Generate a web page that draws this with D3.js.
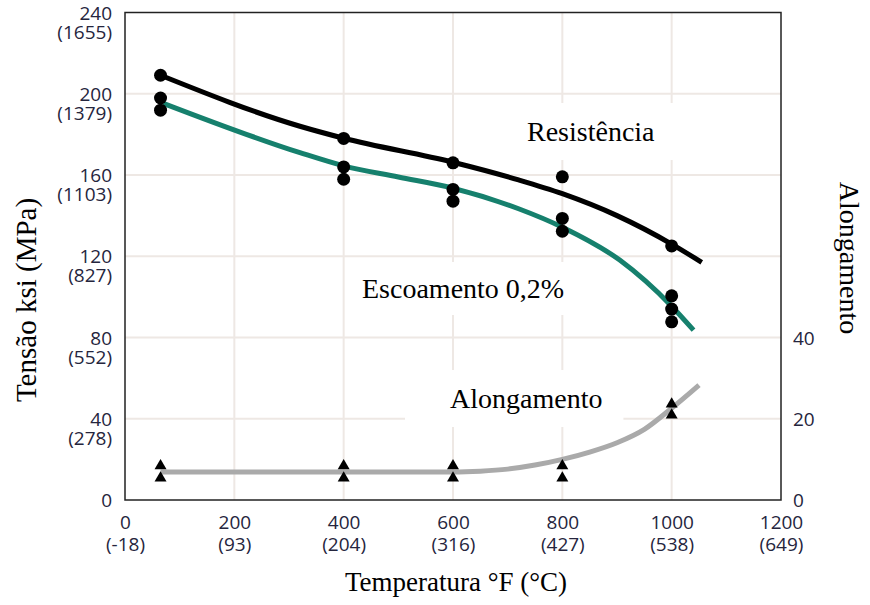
<!DOCTYPE html>
<html>
<head>
<meta charset="utf-8">
<script src="https://cdn.jsdelivr.net/npm/d3@7"></script>
<style>
  html, body { margin: 0; padding: 0; background: #fff; }
  svg { display: block; }
</style>
</head>
<body>
<svg id="chart" width="870" height="605"></svg>
<script>
// Temperature axis (°F) with the Celsius equivalents shown underneath
const tempTicks = [0, 200, 400, 600, 800, 1000, 1200];
const celsiusLabels = ["(-18)", "(93)", "(204)", "(316)", "(427)", "(538)", "(649)"];

// Stress axis (ksi) with MPa equivalents
const ksiTicks = [0, 40, 80, 120, 160, 200, 240];
const mpaLabels = ["", "(278)", "(552)", "(827)", "(1103)", "(1379)", "(1655)"];

// Elongation axis (%)
const elongTicks = [0, 20, 40];

// Tensile strength: test results and fitted curve
const tensilePoints = [[65, 209.1], [400, 178.0], [600, 166.0], [800, 159.1], [1000, 125.1]];
const tensileCurve = [[65, 209.1], [320, 184.0], [400, 178.1], [600, 166.3], [720, 157.6],
                      [800, 150.8], [900, 140.0], [1000, 126.0], [1055, 117.0]];

// 0.2% yield strength: test results and fitted curve
const yieldPoints = [[65, 197.9], [65, 191.9], [400, 164.0], [400, 157.9], [600, 152.9], [600, 147.1],
                     [800, 138.6], [800, 132.3], [1000, 100.5], [1000, 94.0], [1000, 87.7]];
const yieldCurve = [[70, 195.3], [320, 171.0], [400, 164.5], [500, 159.0], [600, 153.5], [720, 143.4],
                    [800, 134.3], [905, 118.1], [1000, 95.4], [1040, 83.6]];

// Elongation: test results and fitted curve
const elongPoints = [[65, 8.4], [65, 5.4], [400, 8.4], [400, 5.4], [600, 8.4], [600, 5.4],
                     [800, 8.4], [800, 5.4], [1000, 23.6], [1000, 20.9]];
const elongCurve = [[65, 6.9], [400, 6.9], [600, 6.9], [650, 7.1], [700, 7.6], [750, 8.6],
                    [800, 10.0], [850, 11.8], [900, 14.1], [950, 17.4], [1000, 22.6], [1050, 28.3]];

const svg = d3.select("#chart");
const plotL = 125, plotR = 781, plotT = 12.5, plotB = 500;

const x = d3.scaleLinear().domain([0, 1200]).range([plotL, plotR]);
const y = d3.scaleLinear().domain([0, 240]).range([plotB, plotT]);
const yEl = d3.scaleLinear().domain([0, 120]).range([plotB, plotT]);

const tickFont = "'Open Sans', sans-serif";
const tickColor = "#25253d";
const serif = "'Liberation Serif', 'Times New Roman', serif";

// Grid
const grid = svg.append("g").attr("stroke", "#eee8e4").attr("stroke-width", 2);
grid.selectAll("line.v").data(tempTicks.slice(1, -1)).join("line").attr("class", "v")
  .attr("x1", d => x(d)).attr("x2", d => x(d)).attr("y1", plotT).attr("y2", plotB);
grid.selectAll("line.h").data(ksiTicks.slice(1, -1)).join("line").attr("class", "h")
  .attr("x1", plotL).attr("x2", plotR).attr("y1", d => y(d)).attr("y2", d => y(d));

// Series labels sit on white panels that hide the grid behind them
const labels = [
  { text: "Resistência", x: 527, y: 141, padL: 18, padR: 18, padT: 13, padB: 13 },
  { text: "Escoamento 0,2%", x: 362, y: 298, padL: 15, padR: 15, padT: 11, padB: 11 },
  { text: "Alongamento", x: 450, y: 408, padL: 45, padR: 21, padT: 13, padB: 13 }
];
const labelG = svg.append("g");
labels.forEach(l => {
  const r = labelG.append("rect").attr("fill", "#fff");
  const t = labelG.append("text").attr("x", l.x).attr("y", l.y)
    .attr("font-family", serif).attr("font-size", 28).attr("fill", "#000").text(l.text);
  const b = t.node().getBBox();
  r.attr("x", b.x - l.padL).attr("y", b.y - l.padT)
   .attr("width", b.width + l.padL + l.padR).attr("height", b.height + l.padT + l.padB);
});

// Curves
const line = (sx, sy) => d3.line().x(d => sx(d[0])).y(d => sy(d[1])).curve(d3.curveMonotoneX);
svg.append("path").datum(elongCurve).attr("d", line(x, yEl))
  .attr("fill", "none").attr("stroke", "#aaaaaa").attr("stroke-width", 5);
svg.append("path").datum(yieldCurve).attr("d", line(x, y))
  .attr("fill", "none").attr("stroke", "#16806d").attr("stroke-width", 5);
svg.append("path").datum(tensileCurve).attr("d", line(x, y))
  .attr("fill", "none").attr("stroke", "#000").attr("stroke-width", 5);

// Test points
svg.append("g").selectAll("circle").data(tensilePoints.concat(yieldPoints)).join("circle")
  .attr("cx", d => x(d[0])).attr("cy", d => y(d[1])).attr("r", 6.5).attr("fill", "#000");
svg.append("g").selectAll("path").data(elongPoints).join("path")
  .attr("d", d3.symbol(d3.symbolTriangle, 62))
  .attr("transform", d => `translate(${x(d[0])},${yEl(d[1])})`).attr("fill", "#000");

// Frame
svg.append("rect").attr("x", plotL).attr("y", plotT)
  .attr("width", plotR - plotL).attr("height", plotB - plotT)
  .attr("fill", "none").attr("stroke", "#222").attr("stroke-width", 1.5);

// Left axis: ksi with MPa below
const gL = svg.append("g").attr("transform", `translate(${plotL},0)`)
  .call(d3.axisLeft(y).tickValues(ksiTicks).tickSize(0).tickPadding(13));
gL.select(".domain").remove();
gL.selectAll(".tick text").each(function(d, i) {
  const t = d3.select(this).text(null).attr("dy", null)
    .attr("font-family", tickFont).attr("font-size", 19).attr("fill", tickColor);
  t.append("tspan").attr("x", -13).attr("dy", "0.35em").text(d);
  if (mpaLabels[i]) t.append("tspan").attr("x", -13).attr("dy", 19).text(mpaLabels[i]);
});

// Bottom axis: °F with °C below
const gB = svg.append("g").attr("transform", `translate(0,${plotB})`)
  .call(d3.axisBottom(x).tickValues(tempTicks).tickSize(0).tickPadding(0));
gB.select(".domain").remove();
gB.selectAll(".tick text").each(function(d, i) {
  const t = d3.select(this).text(null).attr("dy", null).attr("y", 29)
    .attr("font-family", tickFont).attr("font-size", 19).attr("fill", tickColor);
  t.append("tspan").attr("x", 0).text(d);
  t.append("tspan").attr("x", 0).attr("dy", 22).text(celsiusLabels[i]);
});

// Right axis: elongation
const gR = svg.append("g").attr("transform", `translate(${plotR},0)`)
  .call(d3.axisRight(yEl).tickValues(elongTicks).tickSize(0).tickPadding(12));
gR.select(".domain").remove();
gR.selectAll(".tick text").attr("dy", "0.35em")
  .attr("font-family", tickFont).attr("font-size", 19).attr("fill", tickColor);

// Axis titles
svg.append("text").attr("transform", "translate(36,300) rotate(-90)")
  .attr("text-anchor", "middle").attr("font-family", serif).attr("font-size", 29)
  .attr("fill", "#000").text("Tensão ksi (MPa)");
svg.append("text").attr("x", 456).attr("y", 591)
  .attr("text-anchor", "middle").attr("font-family", serif).attr("font-size", 27)
  .attr("fill", "#000").text("Temperatura °F (°C)");
svg.append("text").attr("transform", "translate(840,258) rotate(90)")
  .attr("text-anchor", "middle").attr("font-family", serif).attr("font-size", 28)
  .attr("fill", "#000").text("Alongamento");
</script>
</body>
</html>
